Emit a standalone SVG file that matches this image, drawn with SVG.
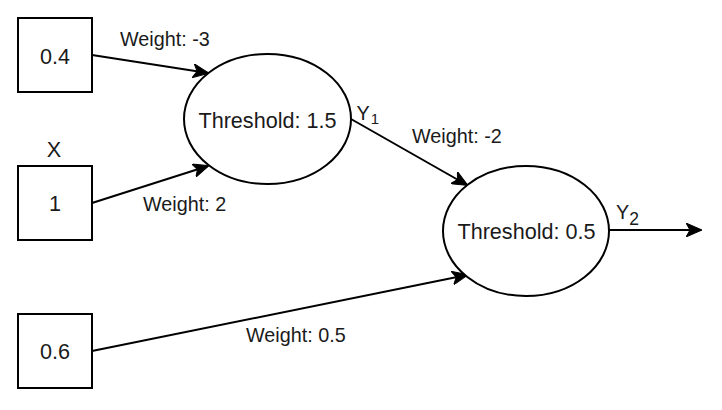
<svg xmlns="http://www.w3.org/2000/svg" width="722" height="410" viewBox="0 0 722 410">
<style>
  .box { fill: #ffffff; stroke: #000000; stroke-width: 2; }
  .node-text { font-family: "Liberation Sans", Arial, sans-serif; font-size: 21.6px; fill: #1a1a1a; text-anchor: middle; }
  .label { font-family: "Liberation Sans", Arial, sans-serif; font-size: 19.8px; fill: #1a1a1a; }
  .edge { fill: none; stroke: #000000; stroke-width: 2; marker-end: url(#arrow); }
</style>
<defs>
  <marker id="arrow" viewBox="0 0 16 14" refX="15" refY="7" markerWidth="16" markerHeight="14" markerUnits="userSpaceOnUse" orient="auto">
    <path d="M0,0 L16,7 L0,14 L4,7 z" fill="#000000" stroke="#000000" stroke-width="1"/>
  </marker>
</defs>
<rect width="722" height="410" fill="#ffffff"/>
<g id="connectors">
  <line class="edge" x1="92" y1="55" x2="208" y2="73"/>
  <line class="edge" x1="92" y1="203" x2="208" y2="166"/>
  <line class="edge" x1="351" y1="119" x2="467" y2="185"/>
  <line class="edge" x1="92" y1="351" x2="467" y2="275"/>
  <line class="edge" x1="609" y1="230" x2="701" y2="230"/>
  <text class="label" x="120" y="46">Weight: -3</text>
  <text class="label" x="143" y="211">Weight: 2</text>
  <text class="label" x="412" y="143">Weight: -2</text>
  <text class="label" x="246" y="342">Weight: 0.5</text>
  <text class="label" x="356.5" y="119.5" font-size="20.5px">Y<tspan font-size="15px" dx="1" dy="4">1</tspan></text>
  <text class="label" x="616" y="218.7" font-size="21.6px">Y<tspan font-size="17.5px" dy="6">2</tspan></text>
</g>
<g id="input-04">
  <rect class="box" x="18" y="18" width="74" height="74"/>
  <text class="node-text" x="55" y="63.5">0.4</text>
</g>
<g id="input-1">
  <rect class="box" x="18" y="166" width="74" height="74"/>
  <text class="node-text" x="55" y="211">1</text>
  <text class="node-text" x="54" y="157" font-size="20.5px">X</text>
</g>
<g id="input-06">
  <rect class="box" x="18" y="314" width="74" height="74"/>
  <text class="node-text" x="55" y="358.5">0.6</text>
</g>
<g id="neuron-1">
  <ellipse class="box" cx="267.5" cy="119" rx="83.5" ry="65"/>
  <text class="node-text" x="267.5" y="128">Threshold: 1.5</text>
</g>
<g id="neuron-2">
  <ellipse class="box" cx="526" cy="231" rx="83" ry="65"/>
  <text class="node-text" x="526.5" y="239">Threshold: 0.5</text>
</g>
</svg>
